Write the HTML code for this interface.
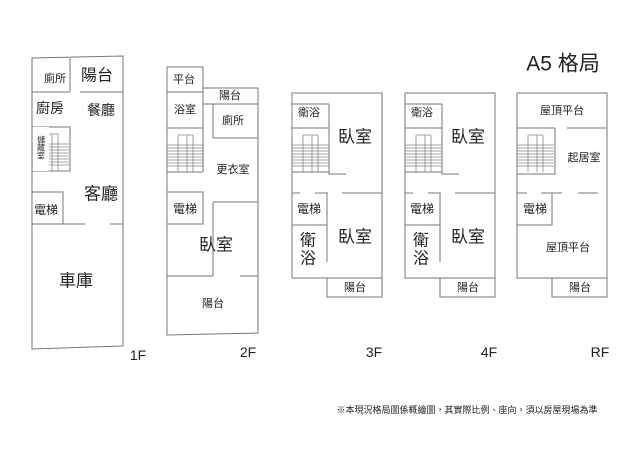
<!DOCTYPE html>
<html><head><meta charset="utf-8"><style>
body{margin:0;background:#fff}
svg{display:block}
text{font-family:"Liberation Sans","Noto Sans CJK TC",sans-serif;fill:#222;text-anchor:middle;dominant-baseline:central}
</style></head><body>
<svg width="640" height="452" viewBox="0 0 640 452" xmlns="http://www.w3.org/2000/svg">
<defs>
<g id="st" stroke="#888" stroke-width="0.8" fill="none">
<path d="M11 7V44M20 7V44M26 7V44M11 7H26"/>
<path d="M0 17H37M0 20H37M0 23H37M0 26H37M0 29H37M0 32H37M0 35H37M0 38H37"/>
</g>
</defs>
<g stroke="#777" stroke-width="1" fill="none">
<path d="M32 58L123 56L123 346L32 349Z"/>
<path d="M70 58V92M32 92H70M80 92H123"/>
<path d="M32 127H70V171H32"/>
<path d="M32 192H63V224M32 224H85M110 224H123"/>
<path d="M167 67H203V88H258V333L167 335Z"/>
<path d="M167 92H203M203 88V172M203 104H258M213 104V138M213 138H258M213 202H258M213 202V276M167 128H203M167 172H203"/>
<path d="M167 192H203V224H167M167 276H213M240 276H258"/>
<path d="M292 93H382V278H292Z"/>
<path d="M327 278V297H382V278"/>
<path d="M329 104V174H346M292 104H329M292 128H329M292 172H329"/>
<path d="M292 193H300M315 193H328M342 193H382M327 193V262M292 225H327"/>
<path d="M405 93H495V278H405Z"/>
<path d="M440 278V297H495V278"/>
<path d="M442 104V174H459M405 104H442M405 128H442M405 172H442"/>
<path d="M405 193H413M428 193H441M455 193H495M440 193V262M405 225H440"/>
<path d="M517 93H607V278H517Z"/>
<path d="M552 278V297H607V278"/>
<path d="M517 128H555M567 128H607M555 128V174H517"/>
<path d="M517 193H527M541 193H562M578 193H598M552 193V225H517"/>
</g>
<use href="#st" x="32" y="127"/>
<use href="#st" x="167" y="128"/>
<use href="#st" x="292" y="128"/>
<use href="#st" x="405" y="128"/>
<use href="#st" x="517" y="128"/>
<rect x="33" y="127" width="16" height="44" fill="#fff"/>
<text x="55" y="79" font-size="11">廁所</text>
<text x="97" y="76" font-size="16">陽台</text>
<text x="50" y="108" font-size="14">廚房</text>
<text x="101" y="110" font-size="14">餐廳</text>
<text x="41" y="140" font-size="8">儲</text>
<text x="41" y="148" font-size="8">藏</text>
<text x="41" y="156" font-size="8">室</text>
<text x="101" y="194" font-size="17">客廳</text>
<text x="46" y="210" font-size="12">電梯</text>
<text x="76" y="281" font-size="17">車庫</text>
<text x="184" y="80" font-size="11">平台</text>
<text x="230" y="96" font-size="11">陽台</text>
<text x="185" y="110" font-size="11">浴室</text>
<text x="233" y="121" font-size="11">廁所</text>
<text x="233" y="170" font-size="11">更衣室</text>
<text x="185" y="209" font-size="12">電梯</text>
<text x="216" y="245" font-size="17">臥室</text>
<text x="213" y="304" font-size="11">陽台</text>
<text x="309" y="113" font-size="11">衛浴</text>
<text x="355" y="137" font-size="17">臥室</text>
<text x="309" y="209" font-size="12">電梯</text>
<text x="308" y="241" font-size="16">衛</text>
<text x="308" y="259" font-size="16">浴</text>
<text x="355" y="237" font-size="17">臥室</text>
<text x="355" y="288" font-size="11">陽台</text>
<text x="422" y="113" font-size="11">衛浴</text>
<text x="468" y="137" font-size="17">臥室</text>
<text x="422" y="209" font-size="12">電梯</text>
<text x="421" y="241" font-size="16">衛</text>
<text x="421" y="259" font-size="16">浴</text>
<text x="468" y="237" font-size="17">臥室</text>
<text x="468" y="288" font-size="11">陽台</text>
<text x="562" y="111" font-size="11">屋頂平台</text>
<text x="584" y="158" font-size="11">起居室</text>
<text x="535" y="209" font-size="12">電梯</text>
<text x="568" y="248" font-size="11">屋頂平台</text>
<text x="580" y="288" font-size="11">陽台</text>
<text x="563" y="64" font-size="21">A5 格局</text>
<text x="138" y="355" font-size="14">1F</text>
<text x="248" y="352" font-size="14">2F</text>
<text x="374" y="352" font-size="14">3F</text>
<text x="489" y="352" font-size="14">4F</text>
<text x="600" y="352" font-size="14">RF</text>
<text x="467" y="410" font-size="9">※本現況格局圖係概繪圖，其實際比例、座向，須以房屋現場為準</text>
</svg>
</body></html>
